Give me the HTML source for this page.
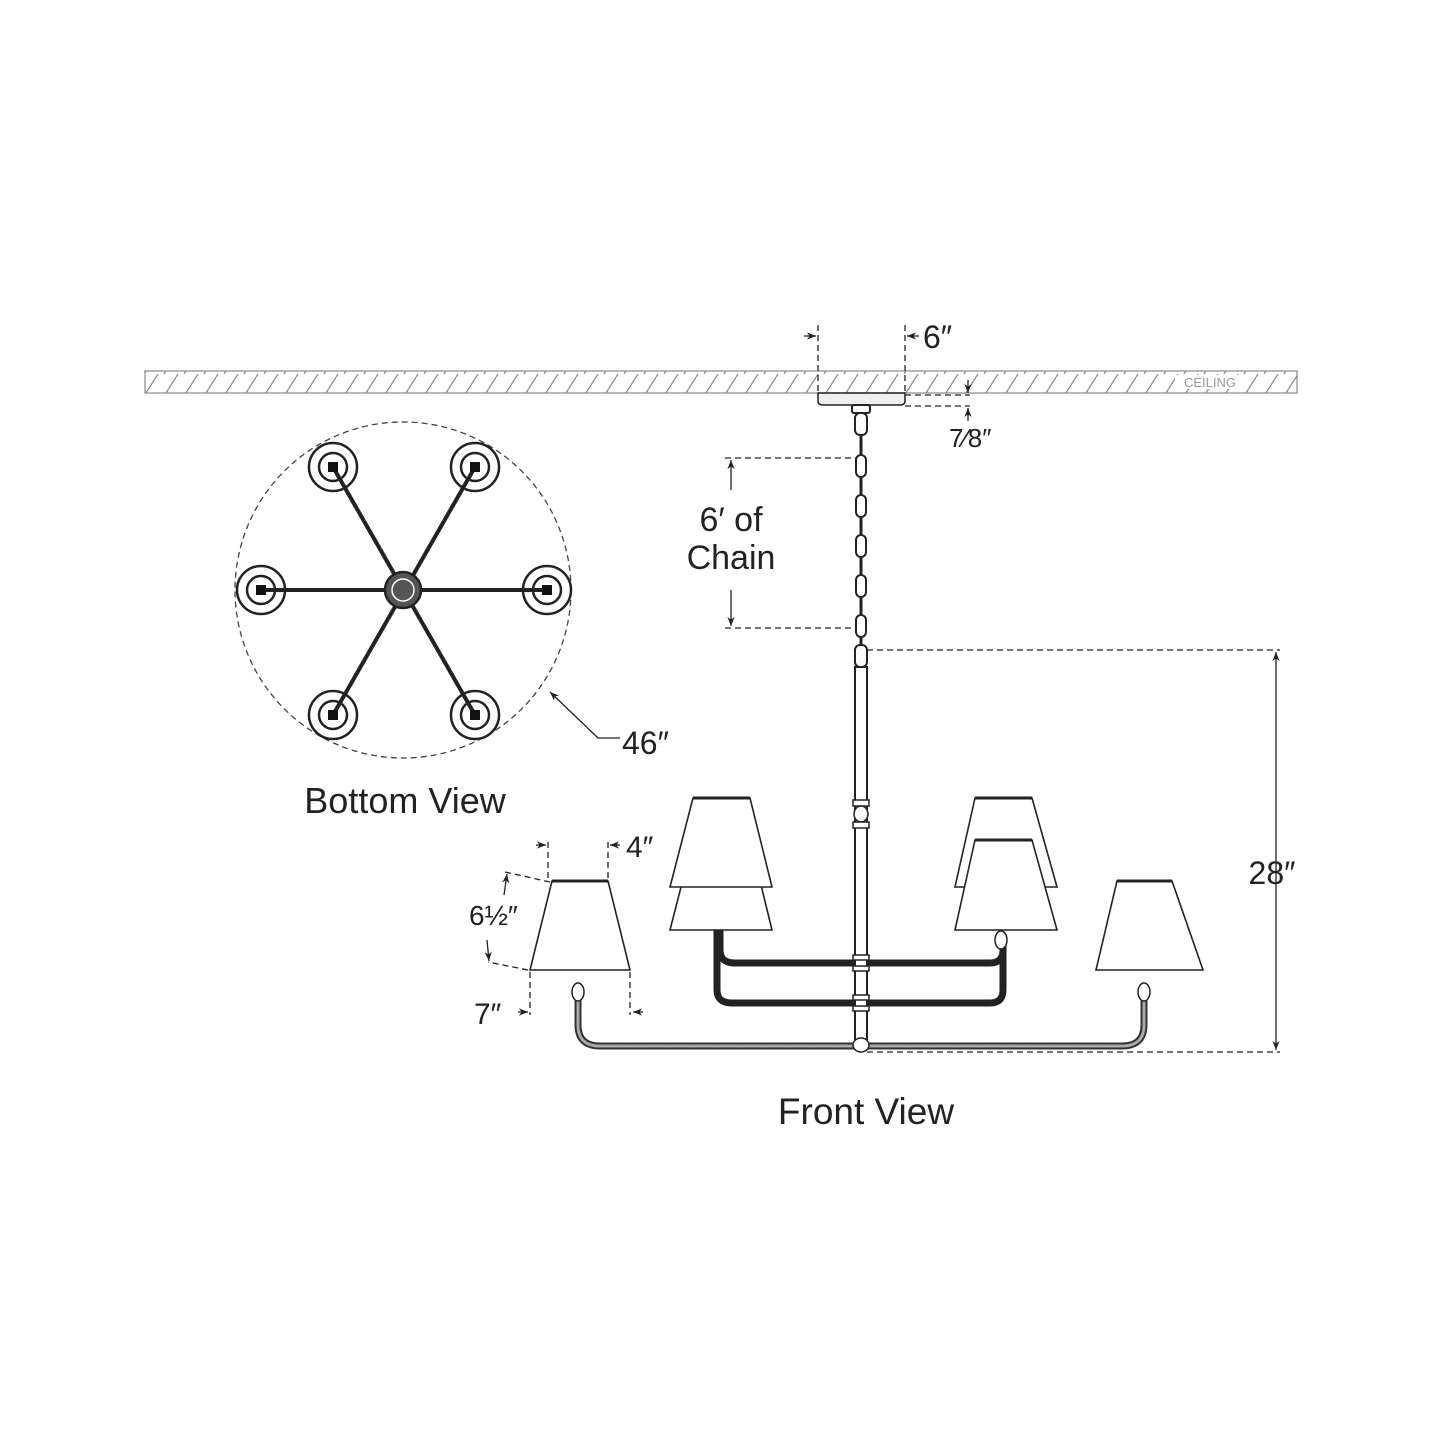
<!DOCTYPE html>
<html><head><meta charset="utf-8"><style>
html,body{margin:0;padding:0;background:#fff}
svg{display:block}
text{font-family:"Liberation Sans",sans-serif;fill:#222}
</style></head><body>
<svg width="1445" height="1445" viewBox="0 0 1445 1445" xmlns="http://www.w3.org/2000/svg">
<defs>
<pattern id="h" width="20" height="22" patternUnits="userSpaceOnUse">
<line x1="4" y1="22" x2="18" y2="0" stroke="#888" stroke-width="1.2"/>
</pattern>
<marker id="ar" viewBox="0 0 10 10" refX="10" refY="5" markerWidth="7" markerHeight="7" orient="auto-start-reverse"><path d="M0,1 L10,5 L0,9 L3,5z" fill="#222"/></marker>
</defs>
<rect x="145" y="371" width="1152" height="22" fill="url(#h)" stroke="#888" stroke-width="1.2"/>
<rect x="1175" y="375" width="68" height="14" fill="#fff"/>
<text x="1210" y="387" font-size="13" text-anchor="middle" style="fill:#999">CEILING</text>
<path d="M818,393 H905 V401 Q905,405 900,405 H823 Q818,405 818,401Z" fill="#eee" stroke="#222" stroke-width="1.5"/>
<g stroke="#222" stroke-width="1.3" stroke-dasharray="6,4" fill="none">
<line x1="818" y1="325" x2="818" y2="393"/><line x1="905" y1="325" x2="905" y2="393"/>
<line x1="905" y1="395" x2="970" y2="395"/><line x1="905" y1="406" x2="970" y2="406"/>
<line x1="725" y1="458" x2="858" y2="458"/><line x1="725" y1="628" x2="858" y2="628"/>
<line x1="867" y1="650" x2="1280" y2="650"/><line x1="867" y1="1052" x2="1280" y2="1052"/>
<line x1="548" y1="842" x2="548" y2="881"/><line x1="608" y1="842" x2="608" y2="881"/>
<line x1="530" y1="972" x2="530" y2="1015"/><line x1="630" y1="972" x2="630" y2="1015"/>
<line x1="550" y1="882" x2="505" y2="872"/><line x1="528" y1="970" x2="488" y2="962"/>
</g>
<g stroke="#222" stroke-width="1.3" fill="none">
<line x1="804" y1="336" x2="816" y2="336" marker-end="url(#ar)"/>
<line x1="919" y1="336" x2="907" y2="336" marker-end="url(#ar)"/>
<line x1="968" y1="380" x2="968" y2="393" marker-end="url(#ar)"/>
<line x1="968" y1="421" x2="968" y2="408" marker-end="url(#ar)"/>
<line x1="731" y1="490" x2="731" y2="460" marker-end="url(#ar)"/>
<line x1="731" y1="590" x2="731" y2="626" marker-end="url(#ar)"/>
<line x1="1276" y1="652" x2="1276" y2="1050" marker-start="url(#ar)" marker-end="url(#ar)"/>
<line x1="536" y1="845" x2="546" y2="845" marker-end="url(#ar)"/>
<line x1="620" y1="845" x2="610" y2="845" marker-end="url(#ar)"/>
<line x1="518" y1="1012" x2="528" y2="1012" marker-end="url(#ar)"/>
<line x1="643" y1="1012" x2="633" y2="1012" marker-end="url(#ar)"/>
<line x1="504" y1="895" x2="507" y2="874" marker-end="url(#ar)"/>
<line x1="487" y1="940" x2="489" y2="961" marker-end="url(#ar)"/>
<polyline points="620,738 598,738 550,692" marker-end="url(#ar)"/>
</g>
<g stroke="#222" stroke-width="2" fill="#fff">
<rect x="852" y="405" width="18" height="8" rx="2"/>
<rect x="855" y="413" width="12" height="22" rx="5"/>
<rect x="856" y="455" width="10" height="22" rx="5"/>
<rect x="856" y="495" width="10" height="22" rx="5"/>
<rect x="856" y="535" width="10" height="22" rx="5"/>
<rect x="856" y="575" width="10" height="22" rx="5"/>
<rect x="856" y="615" width="10" height="22" rx="5"/>
<rect x="855" y="645" width="12" height="22" rx="5"/>
</g>
<g stroke="#222" stroke-width="3">
<line x1="861" y1="435" x2="861" y2="455"/><line x1="861" y1="477" x2="861" y2="495"/>
<line x1="861" y1="517" x2="861" y2="535"/><line x1="861" y1="557" x2="861" y2="575"/>
<line x1="861" y1="597" x2="861" y2="615"/><line x1="861" y1="637" x2="861" y2="645"/>
</g>
<g fill="none" stroke-linecap="round">
<path d="M578,995 V1025 Q578,1046 600,1046 H1122 Q1144,1046 1144,1025 V995" stroke="#333" stroke-width="7"/>
<path d="M578,995 V1025 Q578,1046 600,1046 H1122 Q1144,1046 1144,1025 V995" stroke="#aaa" stroke-width="3" stroke-dasharray="1.5,1.5"/>
<path d="M717,910 V990 Q717,1003 732,1003 H990 Q1003,1003 1003,990 V940" stroke="#222" stroke-width="7"/>
<path d="M720,905 V950 Q720,963 735,963 H990 Q1003,963 1003,950 V935" stroke="#222" stroke-width="7"/>
</g>
<rect x="855" y="667" width="12" height="380" fill="#fff" stroke="#222" stroke-width="2"/>
<g fill="#fff" stroke="#222" stroke-width="1.5">
<rect x="853" y="800" width="16" height="6"/><ellipse cx="861" cy="814" rx="7" ry="8"/><rect x="853" y="822" width="16" height="6"/>
<rect x="853" y="955" width="16" height="5"/><rect x="853" y="966" width="16" height="5"/>
<rect x="853" y="995" width="16" height="5"/><rect x="853" y="1006" width="16" height="5"/>
<ellipse cx="861" cy="1045" rx="8" ry="7"/>
<ellipse cx="578" cy="992" rx="6" ry="9"/><ellipse cx="1144" cy="992" rx="6" ry="9"/>
<ellipse cx="718" cy="900" rx="6" ry="9"/><ellipse cx="1001" cy="940" rx="6" ry="9"/>
</g>
<g fill="#fff" stroke="#222" stroke-width="1.6">
<polygon points="693,840 750,840 772,930 670,930"/>
<polygon points="975,798 1032,798 1057,887 955,887"/>
<polygon points="693,798 750,798 772,887 670,887"/>
<polygon points="975,840 1032,840 1057,930 955,930"/>
<polygon points="552,881 608,881 630,970 530,970"/>
<polygon points="1117,881 1172,881 1203,970 1096,970"/>
</g>
<g stroke="#222" stroke-width="3">
<line x1="693" y1="798" x2="750" y2="798"/><line x1="975" y1="798" x2="1032" y2="798"/>
<line x1="975" y1="840" x2="1032" y2="840"/><line x1="552" y1="881" x2="608" y2="881"/>
<line x1="1117" y1="881" x2="1172" y2="881"/>
</g>
<circle cx="403" cy="590" r="168" fill="none" stroke="#444" stroke-width="1.3" stroke-dasharray="6,4"/>
<g stroke="#222" stroke-width="4">
<line x1="333" y1="467" x2="475" y2="715"/><line x1="475" y1="467" x2="333" y2="715"/>
<line x1="261" y1="590" x2="547" y2="590"/>
</g>
<g fill="none" stroke="#222" stroke-width="2.5">
<circle cx="333" cy="467" r="24"/><circle cx="333" cy="467" r="14"/>
<circle cx="475" cy="467" r="24"/><circle cx="475" cy="467" r="14"/>
<circle cx="261" cy="590" r="24"/><circle cx="261" cy="590" r="14"/>
<circle cx="547" cy="590" r="24"/><circle cx="547" cy="590" r="14"/>
<circle cx="333" cy="715" r="24"/><circle cx="333" cy="715" r="14"/>
<circle cx="475" cy="715" r="24"/><circle cx="475" cy="715" r="14"/>
<circle cx="403" cy="590" r="18" fill="#555"/><circle cx="403" cy="590" r="11" stroke="#fff" stroke-width="1.5"/>
</g>
<g fill="#111">
<rect x="328" y="462" width="10" height="10"/><rect x="470" y="462" width="10" height="10"/>
<rect x="256" y="585" width="10" height="10"/><rect x="542" y="585" width="10" height="10"/>
<rect x="328" y="710" width="10" height="10"/><rect x="470" y="710" width="10" height="10"/>
</g>
<text x="923" y="348" font-size="32">6″</text>
<text x="949" y="447" font-size="26">7⁄8″</text>
<text x="731" y="531" font-size="34" text-anchor="middle">6′ of</text>
<text x="731" y="569" font-size="34" text-anchor="middle">Chain</text>
<text x="1272" y="884" font-size="32" text-anchor="middle">28″</text>
<text x="622" y="754" font-size="32">46″</text>
<text x="405" y="813" font-size="36" text-anchor="middle">Bottom View</text>
<text x="866" y="1124" font-size="37" text-anchor="middle">Front View</text>
<text x="626" y="857" font-size="30">4″</text>
<text x="469" y="925" font-size="28">6½″</text>
<text x="474" y="1024" font-size="30">7″</text>
</svg>
</body></html>
